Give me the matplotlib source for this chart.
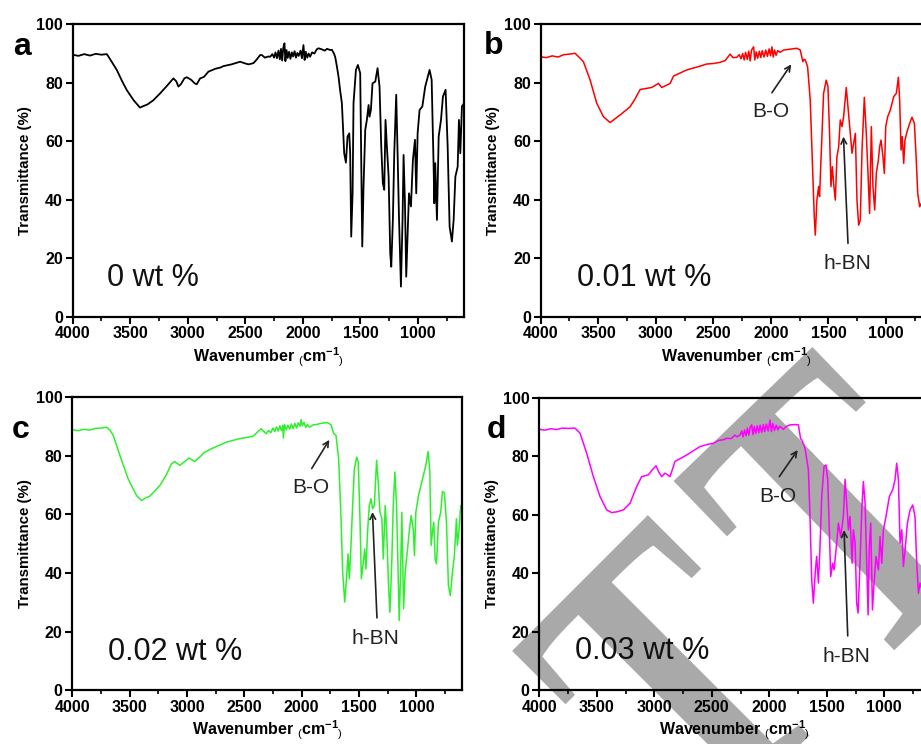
import matplotlib.pyplot as plt
from matplotlib.ticker import MultipleLocator
from matplotlib.textpath import TextPath
from matplotlib.patches import PathPatch
from matplotlib.font_manager import FontProperties
from matplotlib.transforms import Affine2D, IdentityTransform

plt.rcParams['font.family'] = ['Liberation Sans', 'DejaVu Sans']
plt.rcParams['mathtext.fontset'] = 'custom'
plt.rcParams['mathtext.rm'] = 'Liberation Sans'
plt.rcParams['mathtext.bf'] = 'Liberation Sans:bold'

# FTIR spectra, (wavenumber cm-1, transmittance %)
spec_a = [
    (4000, 89.6), (3950, 89.2), (3900, 89.8), (3850, 89.3), (3800, 89.9), (3750, 89.6),
    (3704, 89.8), (3690, 89.0), (3650, 86.5), (3617, 84.4), (3570, 80.5), (3530, 77.5),
    (3470, 74.0), (3415, 71.5), (3400, 71.8), (3350, 72.6), (3300, 74.0), (3240, 76.4),
    (3180, 79.0), (3125, 81.5), (3100, 80.5), (3082, 78.7), (3060, 79.5), (3030, 81.5),
    (3009, 81.9), (2970, 81.0), (2940, 79.8), (2922, 79.5), (2893, 81.5), (2860, 82.0),
    (2821, 83.8), (2760, 84.8), (2717, 85.2), (2690, 85.7), (2620, 86.3), (2545, 87.2),
    (2500, 86.6), (2473, 86.3), (2430, 86.7), (2400, 88.0), (2371, 89.5), (2357, 89.5),
    (2330, 88.6), (2300, 89.0), (2284, 88.9), (2265, 89.8), (2250, 88.6), (2238, 90.4),
    (2225, 88.4), (2212, 91.0), (2200, 88.0), (2190, 91.6), (2180, 87.6), (2170, 92.0),
    (2160, 93.5), (2152, 87.4), (2142, 91.2), (2132, 88.5), (2120, 90.6), (2108, 88.2),
    (2096, 90.4), (2085, 89.0), (2072, 90.8), (2060, 88.6), (2048, 90.2), (2036, 89.2),
    (2020, 91.0), (2008, 88.4), (1995, 92.9), (1985, 87.8), (1975, 90.6), (1962, 88.6),
    (1950, 90.0), (1937, 88.9), (1920, 90.4), (1900, 90.0), (1880, 91.4), (1864, 91.8),
    (1840, 91.5), (1810, 91.0), (1790, 91.6), (1762, 91.2), (1748, 91.3), (1730, 90.0),
    (1719, 88.8), (1704, 85.5), (1690, 82.0), (1675, 77.0), (1661, 73.0), (1641, 55.9),
    (1626, 52.7), (1612, 61.6), (1597, 62.7), (1589, 55.9), (1580, 27.4), (1568, 42.2),
    (1560, 73.0), (1539, 84.4), (1522, 86.1), (1502, 83.3), (1490, 44.5), (1484, 24.0),
    (1473, 44.5), (1458, 63.9), (1444, 67.3), (1429, 72.4), (1421, 68.4), (1409, 70.7),
    (1395, 79.8), (1371, 80.4), (1351, 85.0), (1334, 78.7), (1319, 58.2), (1305, 45.6),
    (1293, 43.4), (1282, 67.3), (1270, 58.2), (1255, 47.9), (1241, 21.7), (1232, 17.1),
    (1218, 33.1), (1206, 55.9), (1189, 75.9), (1177, 55.9), (1165, 34.2), (1148, 10.3),
    (1134, 33.1), (1125, 55.3), (1113, 38.8), (1102, 13.7), (1090, 27.4), (1078, 42.2),
    (1061, 37.7), (1044, 53.6), (1026, 60.5), (1015, 42.2), (1003, 62.7), (986, 70.7),
    (962, 71.9), (937, 78.7), (899, 84.4), (881, 81.0), (864, 51.3), (858, 38.8),
    (850, 52.5), (835, 33.1), (820, 61.6), (800, 67.3), (783, 75.3), (760, 77.6),
    (742, 58.2), (725, 30.8), (705, 25.7), (690, 33.1), (675, 47.9), (655, 51.3),
    (644, 67.3), (632, 55.9), (618, 71.9), (600, 73.0),
]

spec_b = [
    (4000, 88.9), (3950, 88.6), (3900, 89.2), (3850, 88.8), (3800, 89.6), (3750, 89.8),
    (3702, 90.1), (3660, 88.5), (3629, 87.2), (3571, 81.0), (3513, 73.0), (3455, 68.4),
    (3397, 66.4), (3350, 67.8), (3310, 69.0), (3223, 71.8), (3180, 74.5), (3136, 77.7),
    (3078, 78.1), (3035, 78.4), (2977, 79.8), (2948, 78.4), (2904, 79.2), (2875, 79.8),
    (2846, 82.3), (2780, 83.5), (2730, 84.4), (2614, 85.7), (2560, 86.4), (2498, 86.6),
    (2440, 87.0), (2397, 87.6), (2354, 89.8), (2330, 88.6), (2296, 88.7), (2275, 89.6),
    (2260, 88.2), (2245, 90.0), (2232, 87.8), (2220, 90.4), (2205, 88.0), (2192, 90.8),
    (2180, 87.5), (2168, 91.2), (2150, 92.3), (2140, 87.8), (2128, 90.6), (2115, 88.4),
    (2100, 90.8), (2088, 88.6), (2075, 91.0), (2060, 88.8), (2045, 91.2), (2030, 89.0),
    (2015, 91.6), (2003, 89.2), (1991, 92.3), (1980, 88.8), (1968, 91.2), (1955, 89.4),
    (1940, 91.0), (1920, 90.4), (1890, 91.2), (1850, 91.4), (1810, 91.6), (1774, 91.8),
    (1745, 91.2), (1722, 87.2), (1712, 88.0), (1701, 87.8), (1681, 85.5), (1658, 74.1),
    (1643, 57.0), (1623, 34.2), (1614, 27.9), (1600, 39.9), (1585, 44.5), (1577, 41.1),
    (1556, 62.7), (1542, 76.4), (1519, 80.9), (1504, 78.7), (1490, 62.7), (1478, 44.5),
    (1466, 51.3), (1455, 45.6), (1440, 39.9), (1426, 54.7), (1411, 58.1), (1397, 67.3),
    (1382, 65.0), (1368, 68.4), (1345, 78.4), (1330, 71.8), (1315, 65.0), (1295, 55.9),
    (1281, 59.3), (1266, 62.7), (1252, 39.9), (1237, 31.3), (1223, 33.1), (1208, 57.0),
    (1188, 75.0), (1171, 62.7), (1156, 49.0), (1142, 35.3), (1127, 65.0), (1113, 44.5),
    (1098, 36.5), (1084, 49.0), (1066, 53.6), (1055, 58.1), (1043, 60.4), (1026, 54.7),
    (1014, 49.0), (1002, 65.0), (985, 68.4), (962, 70.7), (933, 75.2), (910, 76.4),
    (892, 81.9), (881, 74.1), (869, 57.0), (858, 61.6), (846, 52.4), (835, 60.4),
    (817, 63.3), (794, 66.1), (774, 68.2), (753, 66.1), (738, 54.7), (724, 42.2),
    (707, 37.6), (692, 38.8), (670, 36.0), (640, 40.0), (600, 42.0),
]

spec_c = [
    (4000, 88.9), (3950, 88.5), (3900, 89.0), (3850, 88.7), (3800, 89.3), (3750, 89.4),
    (3701, 89.7), (3670, 88.6), (3643, 86.9), (3585, 80.1), (3513, 72.1), (3440, 66.4),
    (3397, 64.7), (3360, 65.6), (3324, 66.2), (3237, 69.8), (3180, 73.5), (3136, 77.2),
    (3107, 78.0), (3063, 76.7), (3020, 78.0), (2982, 79.2), (2933, 78.0), (2889, 79.5),
    (2846, 81.2), (2773, 82.6), (2657, 84.6), (2541, 85.8), (2480, 86.2), (2425, 86.6),
    (2353, 89.2), (2330, 88.2), (2310, 87.5), (2290, 88.6), (2270, 87.8), (2250, 89.4),
    (2235, 88.2), (2220, 89.8), (2205, 88.4), (2190, 90.2), (2178, 88.6), (2165, 90.3),
    (2160, 86.0), (2150, 90.6), (2135, 88.8), (2120, 90.4), (2105, 89.0), (2090, 90.8),
    (2075, 89.2), (2060, 91.0), (2045, 89.4), (2030, 91.2), (2015, 90.0), (2005, 92.3),
    (1995, 90.2), (1980, 91.4), (1965, 89.6), (1950, 90.6), (1933, 89.7), (1900, 90.5),
    (1870, 90.6), (1846, 90.9), (1800, 91.2), (1773, 91.2), (1744, 90.5), (1721, 87.5),
    (1701, 86.9), (1678, 78.9), (1657, 58.5), (1643, 40.3), (1625, 30.1), (1608, 39.1),
    (1596, 46.5), (1585, 38.0), (1573, 47.1), (1556, 63.0), (1541, 75.5), (1521, 79.5),
    (1507, 77.8), (1492, 58.5), (1480, 38.0), (1463, 43.7), (1451, 48.2), (1440, 41.4),
    (1426, 53.9), (1411, 63.0), (1396, 65.3), (1382, 61.9), (1367, 63.0), (1347, 78.4),
    (1333, 71.0), (1318, 60.7), (1301, 58.5), (1289, 44.8), (1272, 63.0), (1260, 55.0),
    (1243, 35.7), (1231, 26.6), (1214, 44.8), (1202, 63.0), (1188, 74.4), (1173, 63.0),
    (1162, 44.8), (1150, 23.8), (1138, 40.3), (1127, 60.7), (1112, 27.8), (1098, 40.3),
    (1080, 47.1), (1063, 53.9), (1046, 59.6), (1028, 55.0), (1017, 45.9), (1005, 60.7),
    (982, 66.4), (953, 71.0), (918, 76.7), (898, 81.4), (883, 74.4), (872, 49.4),
    (860, 53.9), (849, 57.3), (837, 44.8), (825, 43.1), (808, 57.3), (788, 60.7),
    (773, 67.8), (756, 67.3), (738, 57.3), (721, 35.7), (704, 32.3), (686, 40.3),
    (669, 45.9), (651, 58.5), (643, 49.4), (628, 55.0), (614, 63.0), (600, 60.0),
]

spec_d = [
    (4000, 89.2), (3950, 88.9), (3900, 89.4), (3850, 89.1), (3800, 89.6), (3750, 89.5),
    (3690, 89.6), (3646, 87.9), (3588, 81.0), (3530, 73.0), (3472, 66.2), (3414, 61.6),
    (3371, 60.7), (3320, 61.0), (3269, 61.6), (3211, 63.9), (3153, 69.6), (3110, 73.0),
    (3052, 73.6), (3020, 75.2), (2985, 76.7), (2960, 74.5), (2936, 73.0), (2907, 74.2),
    (2863, 73.0), (2820, 78.2), (2718, 80.4), (2602, 83.3), (2540, 84.0), (2487, 84.4),
    (2440, 85.4), (2400, 85.6), (2370, 86.1), (2330, 86.0), (2300, 87.2), (2280, 86.6),
    (2254, 87.3), (2240, 88.6), (2228, 86.6), (2215, 89.0), (2202, 87.0), (2190, 89.6),
    (2178, 87.2), (2165, 90.0), (2153, 90.7), (2142, 87.4), (2130, 90.2), (2118, 87.8),
    (2105, 90.4), (2092, 88.0), (2080, 90.6), (2066, 88.2), (2052, 90.8), (2040, 88.4),
    (2025, 91.0), (2010, 88.6), (1994, 92.4), (1982, 88.4), (1970, 91.2), (1955, 88.8),
    (1940, 90.6), (1925, 89.0), (1910, 90.2), (1878, 89.2), (1850, 90.2), (1820, 90.7),
    (1780, 90.8), (1747, 90.7), (1728, 86.0), (1718, 85.6), (1689, 82.7), (1660, 75.3),
    (1646, 59.4), (1631, 37.7), (1617, 29.7), (1599, 41.1), (1588, 45.7), (1573, 36.6),
    (1559, 49.1), (1544, 66.2), (1524, 76.5), (1507, 77.0), (1492, 71.9), (1478, 54.8),
    (1466, 38.8), (1449, 43.4), (1437, 41.1), (1425, 45.7), (1414, 50.2), (1399, 57.1),
    (1379, 52.5), (1356, 59.4), (1341, 72.1), (1327, 63.9), (1312, 54.8), (1298, 59.4),
    (1280, 43.4), (1269, 54.8), (1254, 50.2), (1240, 29.7), (1228, 26.3), (1211, 43.4),
    (1196, 61.6), (1182, 71.3), (1167, 63.9), (1153, 43.4), (1141, 25.7), (1130, 49.1),
    (1118, 57.1), (1103, 27.4), (1089, 36.6), (1072, 45.7), (1051, 41.1), (1037, 52.5),
    (1022, 43.4), (1008, 54.8), (985, 59.4), (956, 66.2), (927, 68.5), (907, 71.9),
    (892, 77.6), (877, 71.9), (863, 50.2), (848, 54.8), (834, 42.3), (819, 48.0),
    (799, 57.1), (776, 61.6), (753, 63.3), (733, 59.4), (718, 43.4), (703, 33.1),
    (689, 36.6), (670, 34.0), (640, 38.0), (600, 40.0),
]

panel_letters = ['a', 'b', 'c', 'd']
loadings = ['0 wt %', '0.01 wt %', '0.02 wt %', '0.03 wt %']
line_colors = ['black', '#ff0000', '#2df02d', '#ff00ff']

# B-O / h-BN arrows: (text xy, arrow tail, arrow head) in data units, panel a has none
bo_marks = [None,
            ((1997, 70.3), (1991, 76.6), (1823, 86.3)),
            ((1924, 69.0), (1913, 75.6), (1759, 85.4)),
            ((1922, 66.1), (1913, 73.0), (1753, 82.1))]
hbn_marks = [None,
             ((1339, 18.3), (1330, 25.1), (1369, 61.6)),
             ((1353, 17.6), (1344, 24.7), (1383, 60.8)),
             ((1327, 11.6), (1318, 18.5), (1350, 54.7))]

W, H = 921, 744
# axes boxes in pixels: left, top, width, height
boxes = [(72.7, 24.3, 391.3, 292.4), (540.7, 24.3, 391.3, 292.4),
         (72.3, 397.0, 390.0, 293.3), (539.3, 397.7, 391.0, 292.3)]
letter_pos = [(22, 47), (494, 46), (21, 430), (496, 430)]

# grey stamp letters: top-centre (px), width, height, angle
stamp = [((580, 583), 192, 270, 45), ((743, 414), 193, 275, 44)]

fig = plt.figure(figsize=(W / 100, H / 100), dpi=100)


def add_stamp(fig, top, width, height, angle):
    tp = TextPath((0, 0), 'T', size=100,
                  prop=FontProperties(family='Liberation Serif', weight='bold'))
    bb = tp.get_extents()
    tr = (Affine2D().translate(-(bb.x0 + bb.x1) / 2, -bb.y1)
          .scale(width / bb.width, height / bb.height)
          .rotate_deg(angle)
          .translate(top[0], H - top[1]))
    fig.add_artist(PathPatch(tr.transform_path(tp), facecolor='#a9a9a9',
                             edgecolor='none', transform=IdentityTransform(),
                             zorder=-1))


for top, w, h, ang in stamp:
    add_stamp(fig, top, w, h, ang)

specs = [spec_a, spec_b, spec_c, spec_d]
for i, spec in enumerate(specs):
    l, t, w, h = boxes[i]
    ax = fig.add_axes([l / W, 1 - (t + h) / H, w / W, h / H])
    ax.set_facecolor('none')
    wn = [p[0] for p in spec]
    tr = [p[1] for p in spec]
    ax.plot(wn, tr, color=line_colors[i], lw=1.3 if i == 0 else 1.1)

    ax.set_xlim(4000, 600)
    ax.set_ylim(0, 100)
    ax.xaxis.set_major_locator(MultipleLocator(500))
    ax.xaxis.set_minor_locator(MultipleLocator(250))
    ax.yaxis.set_major_locator(MultipleLocator(20))
    ax.tick_params(which='major', direction='out', length=5, width=1.5,
                   labelsize=11.5, pad=2)
    ax.tick_params(which='minor', direction='out', length=3, width=1.2)
    for lbl in ax.get_xticklabels() + ax.get_yticklabels():
        lbl.set_fontweight('bold')
    for sp in ax.spines.values():
        sp.set_linewidth(1.6)
    ax.set_ylabel('Transmittance (%)', fontsize=10.8, fontweight='bold', labelpad=3)
    ax.set_xlabel(r'Wavenumber $_{(}\mathbf{cm}^{\mathbf{-1}}{}_{)}$',
                  fontsize=11.5, fontweight='bold', labelpad=3)

    ax.text(3700 if i == 0 else 3687, 13.2, loadings[i], fontsize=22,
            ha='left', va='center', color='#111111')

    if bo_marks[i] is not None:
        for txt, (pos, tail, head) in (('B-O', bo_marks[i]), ('h-BN', hbn_marks[i])):
            ax.annotate('', xy=head, xytext=tail,
                        arrowprops=dict(arrowstyle='->', color='#222222', lw=1.2,
                                        shrinkA=0, shrinkB=0))
            ax.text(pos[0], pos[1], txt, fontsize=15, ha='center', va='center',
                    color='#222222')

    lx, ly = letter_pos[i]
    fig.text(lx / W, 1 - ly / H, panel_letters[i], fontsize=23, fontweight='bold',
             ha='center', va='center')

fig.savefig('out.png', dpi=100, facecolor='white')
